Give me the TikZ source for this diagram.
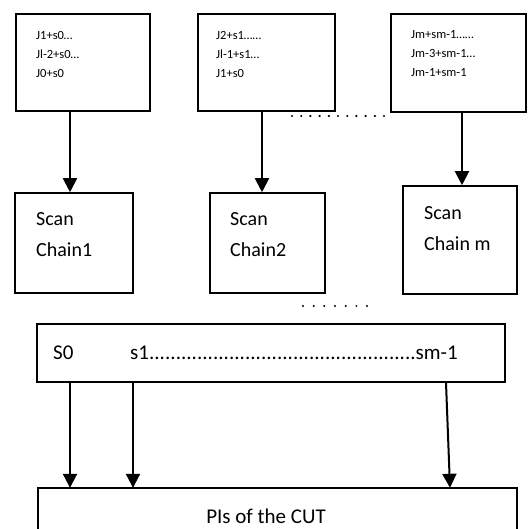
\documentclass[tikz,border=0pt]{standalone}
\usepackage{fontspec}
\setmainfont{Carlito}
\usetikzlibrary{
  positioning,
  arrows.meta
}
\tikzstyle{box}=[draw, line width=1.6pt, inner sep=0pt]
\tikzstyle{arr}=[-{Triangle[width=14pt,length=14pt]}, line width=2pt]
\tikzstyle{small}=[font=\fontsize{12.5}{19}\selectfont, align=left, inner sep=0pt]
\tikzstyle{big}=[font=\fontsize{20}{31}\selectfont, align=left, inner sep=0pt]

\begin{document}
\begin{tikzpicture}[x=1pt, y=-1pt]
    \useasboundingbox (0,0) rectangle (527,529);

    % 上段のボックス
    \node[box, minimum width=134pt, minimum height=97pt] (top1) at (83,62.5) {};
    \node[box, minimum width=137pt, minimum height=97pt] (top2) at (266.5,62.5) {};
    \node[box, minimum width=135pt, minimum height=98pt] (top3) at (458.5,63) {};
    \node[small, anchor=west] (txt1) at (36,54) {J1+s0\ldots\\Jl-2+s0\ldots\\J0+s0};
    \node[small, anchor=west] (txt2) at (216,54) {J2+s1\ldots\ldots\\Jl-1+s1\ldots\\J1+s0};
    \node[small, anchor=west] (txt3) at (411,54) {Jm+sm-1\ldots\ldots\\Jm-3+sm-1\ldots\\Jm-1+sm-1};

    % 点線
    \foreach \i in {0,...,10}
      \fill (292+9.2*\i,116) circle (1.2pt);

    % スキャンチェーン
    \node[box, minimum width=118pt, minimum height=100pt] (scan1) at (74,243) {};
    \node[box, minimum width=115pt, minimum height=100pt] (scan2) at (267.5,243) {};
    \node[box, minimum width=114pt, minimum height=108pt] (scan3) at (460,240) {};
    \node[big, anchor=west] (chain1) at (36,234.5) {Scan\\Chain1};
    \node[big, anchor=west] (chain2) at (230,234.5) {Scan\\Chain2};
    \node[big, anchor=west] (chain3) at (424,229) {Scan\\Chain m};

    % 矢印
    \draw[arr] (top1.south -| 70,0) -- (scan1.north -| 70,0);
    \draw[arr] (top2.south -| 262,0) -- (scan2.north -| 262,0);
    \draw[arr] (top3.south -| 462,0) -- (scan3.north -| 462,0);

    \foreach \i in {0,...,6}
      \fill (303+10.67*\i,306) circle (1.1pt);

    % シードのボックス
    \node[box, minimum width=468pt, minimum height=58pt] (seed) at (271,353) {};
    \node[big, font=\fontsize{21}{31}\selectfont, anchor=west] (s0) at (53,353) {S0};
    \node[big, font=\fontsize{21}{31}\selectfont, anchor=west, text width=328pt] (sline) at (130,353)
      {s1\xleaders\hbox{.}\hfill sm-1};

    % CUTの入力
    \node[inner sep=0pt, minimum width=479pt, minimum height=41pt] (pis) at (277.5,508.5) {};
    \draw[line width=1.6pt] (pis.south west) |- (pis.north east) -- (pis.south east);
    \node[big, font=\fontsize{21}{31}\selectfont] (pistxt) at (266,516) {PIs of the CUT};

    \draw[arr] (seed.south -| 70,0) -- (pis.north -| 70,0);
    \draw[arr] (seed.south -| 133,0) -- (pis.north -| 133,0);
    \draw[arr] (seed.south -| 446,0) -- (pis.north -| 450,0);
  \end{tikzpicture}
\end{document}
